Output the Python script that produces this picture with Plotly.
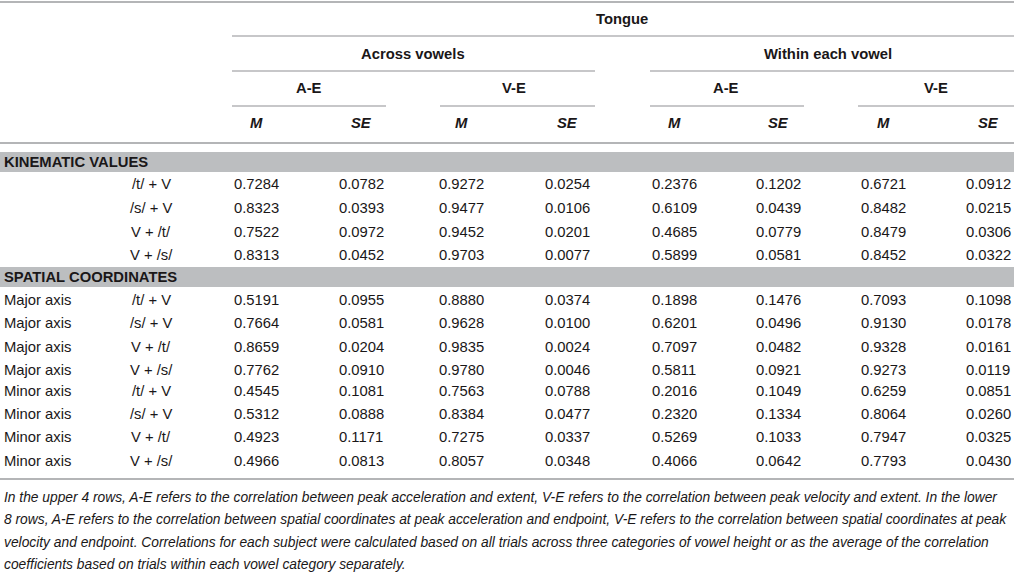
import plotly.graph_objects as go

# table content
kin_labels = ["/t/ + V", "/s/ + V", "V + /t/", "V + /s/"]
spa_axis = ["Major axis"] * 4 + ["Minor axis"] * 4
spa_labels = kin_labels * 2

across_ae_m = [0.7284, 0.8323, 0.7522, 0.8313, 0.5191, 0.7664, 0.8659, 0.7762, 0.4545, 0.5312, 0.4923, 0.4966]
across_ae_se = [0.0782, 0.0393, 0.0972, 0.0452, 0.0955, 0.0581, 0.0204, 0.0910, 0.1081, 0.0888, 0.1171, 0.0813]
across_ve_m = [0.9272, 0.9477, 0.9452, 0.9703, 0.8880, 0.9628, 0.9835, 0.9780, 0.7563, 0.8384, 0.7275, 0.8057]
across_ve_se = [0.0254, 0.0106, 0.0201, 0.0077, 0.0374, 0.0100, 0.0024, 0.0046, 0.0788, 0.0477, 0.0337, 0.0348]
within_ae_m = [0.2376, 0.6109, 0.4685, 0.5899, 0.1898, 0.6201, 0.7097, 0.5811, 0.2016, 0.2320, 0.5269, 0.4066]
within_ae_se = [0.1202, 0.0439, 0.0779, 0.0581, 0.1476, 0.0496, 0.0482, 0.0921, 0.1049, 0.1334, 0.1033, 0.0642]
within_ve_m = [0.6721, 0.8482, 0.8479, 0.8452, 0.7093, 0.9130, 0.9328, 0.9273, 0.6259, 0.8064, 0.7947, 0.7793]
within_ve_se = [0.0912, 0.0215, 0.0306, 0.0322, 0.1098, 0.0178, 0.0161, 0.0119, 0.0851, 0.0260, 0.0325, 0.0430]

section_titles = ["KINEMATIC VALUES", "SPATIAL COORDINATES"]
group_titles = ["Across vowels", "Within each vowel"]
pair_titles = ["A-E", "V-E", "A-E", "V-E"]
stat_titles = ["M", "SE"] * 4

footnote = [
    "In the upper 4 rows, A-E refers to the correlation between peak acceleration and extent, V-E refers to the correlation between peak velocity and extent. In the lower",
    "8 rows, A-E refers to the correlation between spatial coordinates at peak acceleration and endpoint, V-E refers to the correlation between spatial coordinates at peak",
    "velocity and endpoint. Correlations for each subject were calculated based on all trials across three categories of vowel height or as the average of the correlation",
    "coefficients based on trials within each vowel category separately.",
]

W, H = 1014, 573
TXT = "#1a1718"
RULE = "#b4b5b7"
BAND = "#bcbec0"
FONT = "Liberation Sans, Arial, sans-serif"
FS = 14.8

col_x = [256, 361, 461, 567, 674, 778, 883, 988]
columns = [across_ae_m, across_ae_se, across_ve_m, across_ve_se,
           within_ae_m, within_ae_se, within_ve_m, within_ve_se]
kin_y = [184, 208, 232, 255]
spa_y = [300, 323, 347, 370, 391, 414, 437, 461]

fig = go.Figure()
ann = []
shapes = []


def text(x, y, s, size=FS, anchor="center", bold=False, italic=False):
    if bold:
        s = "<b>" + s + "</b>"
    if italic:
        s = "<i>" + s + "</i>"
    ann.append(dict(x=x, y=y, xref="x", yref="y", text=s, showarrow=False,
                    xanchor=anchor, yanchor="middle",
                    font=dict(family=FONT, size=size, color=TXT)))


def rule(x0, x1, y, w=1.6):
    shapes.append(dict(type="line", xref="x", yref="y", x0=x0, x1=x1, y0=y, y1=y,
                       line=dict(color=RULE, width=w)))


# header
rule(0, W, 2, 2)
text(622, 19, "Tongue", bold=True)
rule(232, W, 36)
text(413, 54, group_titles[0], bold=True)
text(828, 54, group_titles[1], bold=True)
rule(232, 595, 71)
rule(650, W, 71)
pair_x = [(232, 386), (440, 595), (650, 804), (858, W)]
for i, (a, b) in enumerate(pair_x):
    text((col_x[2 * i] + col_x[2 * i + 1]) / 2, 88, pair_titles[i], bold=True)
    rule(a, b, 106)
for i, s in enumerate(stat_titles):
    text(col_x[i], 123, s, bold=True, italic=True)
rule(0, W, 143, 2)

# section bands
for (y0, y1), title in zip([(152, 172), (267, 287)], section_titles):
    shapes.append(dict(type="rect", xref="x", yref="y", x0=0, x1=W, y0=y0, y1=y1,
                       fillcolor=BAND, line=dict(width=0), layer="below"))
    text(2, (y0 + y1) / 2, title, anchor="left", bold=True)

# body rows
for j, y in enumerate(kin_y):
    text(151, y, kin_labels[j])
    for c, vals in zip(col_x, columns):
        text(c, y, f"{vals[j]:.4f}")
for j, y in enumerate(spa_y):
    text(2, y, spa_axis[j], anchor="left")
    text(151, y, spa_labels[j])
    for c, vals in zip(col_x, columns):
        text(c, y, f"{vals[j + 4]:.4f}")
rule(0, W, 479, 2)

# footnote
for j, line in enumerate(footnote):
    text(2, 497 + j * 22.5, line, size=13.8, anchor="left", italic=True)

fig.update_layout(
    width=W, height=H,
    margin=dict(l=0, r=0, t=0, b=0),
    paper_bgcolor="white", plot_bgcolor="white",
    xaxis=dict(range=[0, W], visible=False, fixedrange=True),
    yaxis=dict(range=[H, 0], visible=False, fixedrange=True),
    annotations=ann, shapes=shapes,
    showlegend=False,
)
fig.write_html("out.html", config={"displayModeBar": False},
               post_script="document.body.style.margin='0px';")
